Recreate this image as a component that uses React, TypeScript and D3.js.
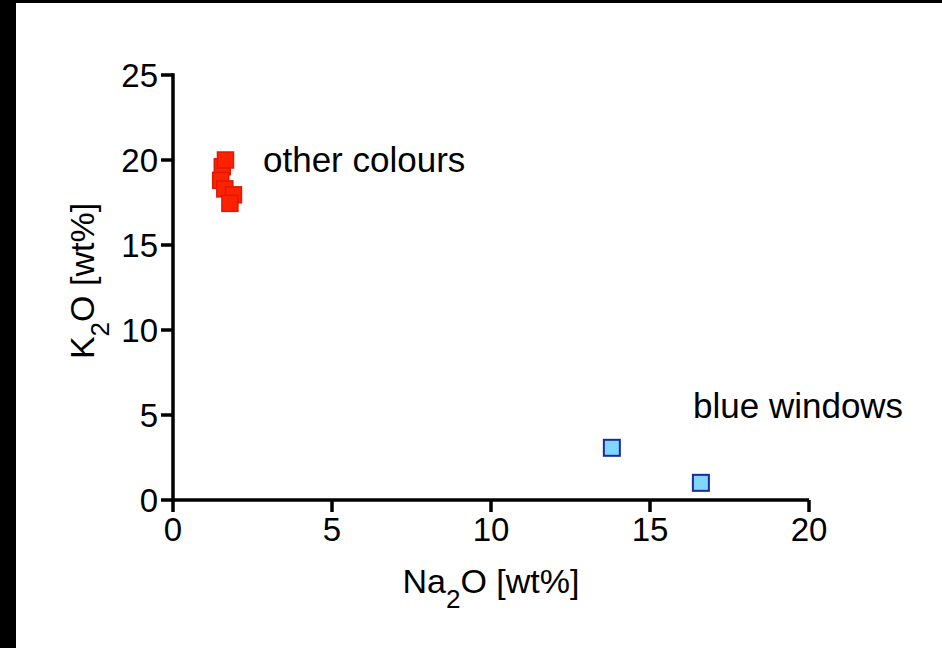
import * as d3 from 'd3';

// Na2O / K2O in wt%
const otherNa = [1.55, 1.65, 1.5, 1.63, 1.9, 1.79];
const otherK = [19.6, 20.0, 18.8, 18.3, 17.95, 17.45];
const blueNa = [13.8, 16.6];
const blueK = [3.07, 1.01];
const xTicks = [0, 5, 10, 15, 20];
const yTicks = [0, 5, 10, 15, 20, 25];

const W = 942;
const H = 648;
const font = "'Liberation Sans', Arial, Helvetica, sans-serif";

export default function App() {
  const x = d3.scaleLinear().domain([0, 20]).range([173, 809]);
  const y = d3.scaleLinear().domain([0, 25]).range([500, 75]);
  const sq = 16;

  const other = otherNa.map((v, i) => ({ x: v, y: otherK[i] }));
  const blue = blueNa.map((v, i) => ({ x: v, y: blueK[i] }));

  return (
    <svg
      width={W}
      height={H}
      style={{ position: 'absolute', left: 0, top: 0, background: '#fff' }}
      fontFamily={font}
    >
      {/* black frame bits on the left and top */}
      <rect x={0} y={0} width={16} height={H} fill='#000' />
      <rect x={0} y={0} width={W} height={3} fill='#000' />

      {/* axes */}
      <line x1={x(0)} x2={x(20)} y1={y(0)} y2={y(0)} stroke='#000' strokeWidth={3.5} />
      <line x1={x(0)} x2={x(0)} y1={y(0) + 1.75} y2={y(25) - 1.75} stroke='#000' strokeWidth={3.5} />
      {xTicks.map((t) => (
        <g key={'x' + t}>
          <line x1={x(t)} x2={x(t)} y1={y(0)} y2={y(0) + 12} stroke='#000' strokeWidth={3.5} />
          <text x={x(t)} y={y(0) + 41} textAnchor='middle' fontSize={33}>
            {t}
          </text>
        </g>
      ))}
      {yTicks.map((t) => (
        <g key={'y' + t}>
          <line x1={x(0) - 12} x2={x(0)} y1={y(t)} y2={y(t)} stroke='#000' strokeWidth={3.5} />
          <text x={x(0) - 15} y={y(t) + 12} textAnchor='end' fontSize={33}>
            {t}
          </text>
        </g>
      ))}

      {/* axis titles */}
      <text x={491} y={593} textAnchor='middle' fontSize={34}>
        Na<tspan baselineShift='sub' fontSize={26}>2</tspan>O [wt%]
      </text>
      <text transform={`translate(94,${281}) rotate(-90)`} textAnchor='middle' fontSize={34}>
        K<tspan baselineShift='sub' fontSize={26}>2</tspan>O [wt%]
      </text>

      {/* points */}
      {other.map((d, i) => (
        <rect
          key={'o' + i}
          x={x(d.x) - sq / 2}
          y={y(d.y) - sq / 2}
          width={sq}
          height={sq}
          fill='#ff2200'
          stroke='#dd1a00'
          strokeWidth={1.5}
        />
      ))}
      {blue.map((d, i) => (
        <rect
          key={'b' + i}
          x={x(d.x) - sq / 2}
          y={y(d.y) - sq / 2}
          width={sq}
          height={sq}
          fill='#7fd6ff'
          stroke='#1a2a9e'
          strokeWidth={2}
        />
      ))}

      {/* annotations */}
      <text x={263} y={172} fontSize={35}>
        other colours
      </text>
      <text x={693} y={418} fontSize={35}>
        blue windows
      </text>
    </svg>
  );
}
